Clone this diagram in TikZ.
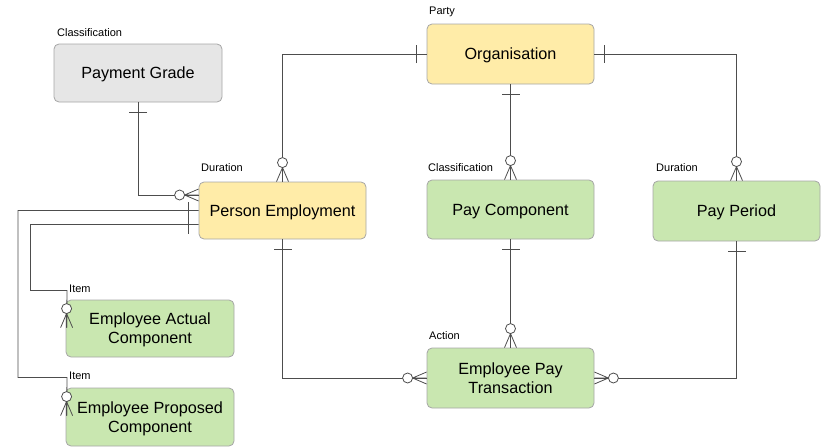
\documentclass[tikz,border=0pt]{standalone}
\usepackage{fontspec}
\setmainfont{Liberation Sans}
\usetikzlibrary{calc}
\definecolor{yel}{HTML}{FFECA8}
\definecolor{grn}{HTML}{C9E7B0}
\definecolor{gry}{HTML}{E6E6E6}
\definecolor{bord}{HTML}{A6A6A6}
\definecolor{ln}{HTML}{4D4D4D}
\tikzset{
  ent/.style={draw=bord, line width=0.8pt, rounded corners=5pt, minimum width=167pt, align=center,
     font=\fontsize{16.2}{19}\selectfont, inner sep=0pt, text depth=0pt},
  lab/.style={anchor=west, font=\fontsize{11}{13}\selectfont, inner sep=0pt},
  conn/.style={draw=ln, line width=0.8pt},
  zmany/.pic={\draw[conn] (14,0)--(0,-6) (14,0)--(0,0) (14,0)--(0,6);
              \draw[conn, fill=white] (19,0) circle (5);},
  onemark/.pic={\draw[conn] (10,-9)--(10,9);}
}
\begin{document}
\begin{tikzpicture}[x=1pt,y=-1pt]
\useasboundingbox (0,0) rectangle (822,447);
\node[ent, fill=gry, minimum height=58pt, minimum width=168pt] (pg) at (138,73) {Payment Grade};
\node[ent, fill=yel, minimum height=60pt] (org) at (510.5,54) {Organisation};
\node[ent, fill=yel, minimum height=57pt] (pe) at (282.5,210.5) {Person Employment};
\node[ent, fill=grn, minimum height=59pt] (pc) at (510.5,209.5) {Pay Component};
\node[ent, fill=grn, minimum height=60pt] (pp) at (736.5,211) {Pay Period};
\node[ent, fill=grn, minimum height=57pt, minimum width=168pt] (eac) at (150,328.5) {Employee Actual\\Component};
\node[ent, fill=grn, minimum height=58pt, minimum width=168pt] (epc) at (150,417) {Employee Proposed\\Component};
\node[ent, fill=grn, minimum height=60pt] (ept) at (510.5,378) {Employee Pay\\Transaction};

\node[lab] (l1) at (57,32.5) {Classification};
\node[lab] (l2) at (429,12) {Party};
\node[lab] (l3) at (201,167.5) {Duration};
\node[lab] (l4) at (428,167.5) {Classification};
\node[lab] (l5) at (656,167.5) {Duration};
\node[lab] (l6) at (69,288.5) {Item};
\node[lab] (l7) at (69,375.5) {Item};
\node[lab] (l8) at (429,336) {Action};

\coordinate (pel1) at ($(pe.west)+(0,-15.5)$);
\coordinate (pel2) at ($(pe.west)+(0,0)$);
\coordinate (pel3) at ($(pe.west)+(0,14)$);
\coordinate (e1) at ($(eac.north west)+(1,28)$);
\coordinate (e2) at ($(epc.north west)+(1,28)$);

\draw[conn] (org.west) -| (pe.north);
\draw[conn] (org.east) -| (pp.north);
\draw[conn] (org.south) -- (pc.north);
\draw[conn] (pg.south) |- (pel1);
\draw[conn] (pel2) -- (18,210.5) |- (67,377.5) -- (e2);
\draw[conn] (pel3) -- (30.5,224.5) |- (67,290.5) -- (e1);
\draw[conn] (pe.south) |- (ept.west);
\draw[conn] (pp.south) |- (ept.east);
\draw[conn] (pc.south) -- (ept.north);

\pic[rotate=180] at (org.west) {onemark};
\pic[rotate=0] at (org.east) {onemark};
\pic[rotate=270] at (org.south) {onemark};
\pic[rotate=270] at (pg.south) {onemark};
\pic[rotate=270] at (pe.south) {onemark};
\pic[rotate=270] at (pc.south) {onemark};
\pic[rotate=270] at (pp.south) {onemark};
\pic[rotate=180] at (pel2) {onemark};
\pic[rotate=180] at (pel3) {onemark};

\pic[rotate=90] at (pe.north) {zmany};
\pic[rotate=90] at (pc.north) {zmany};
\pic[rotate=90] at (pp.north) {zmany};
\pic[rotate=90] at (ept.north) {zmany};
\pic[rotate=180] at (ept.west) {zmany};
\pic[rotate=0] at (ept.east) {zmany};
\pic[rotate=180] at (pel1) {zmany};
\pic[rotate=90] at (e1) {zmany};
\pic[rotate=90] at (e2) {zmany};
\end{tikzpicture}
\end{document}
